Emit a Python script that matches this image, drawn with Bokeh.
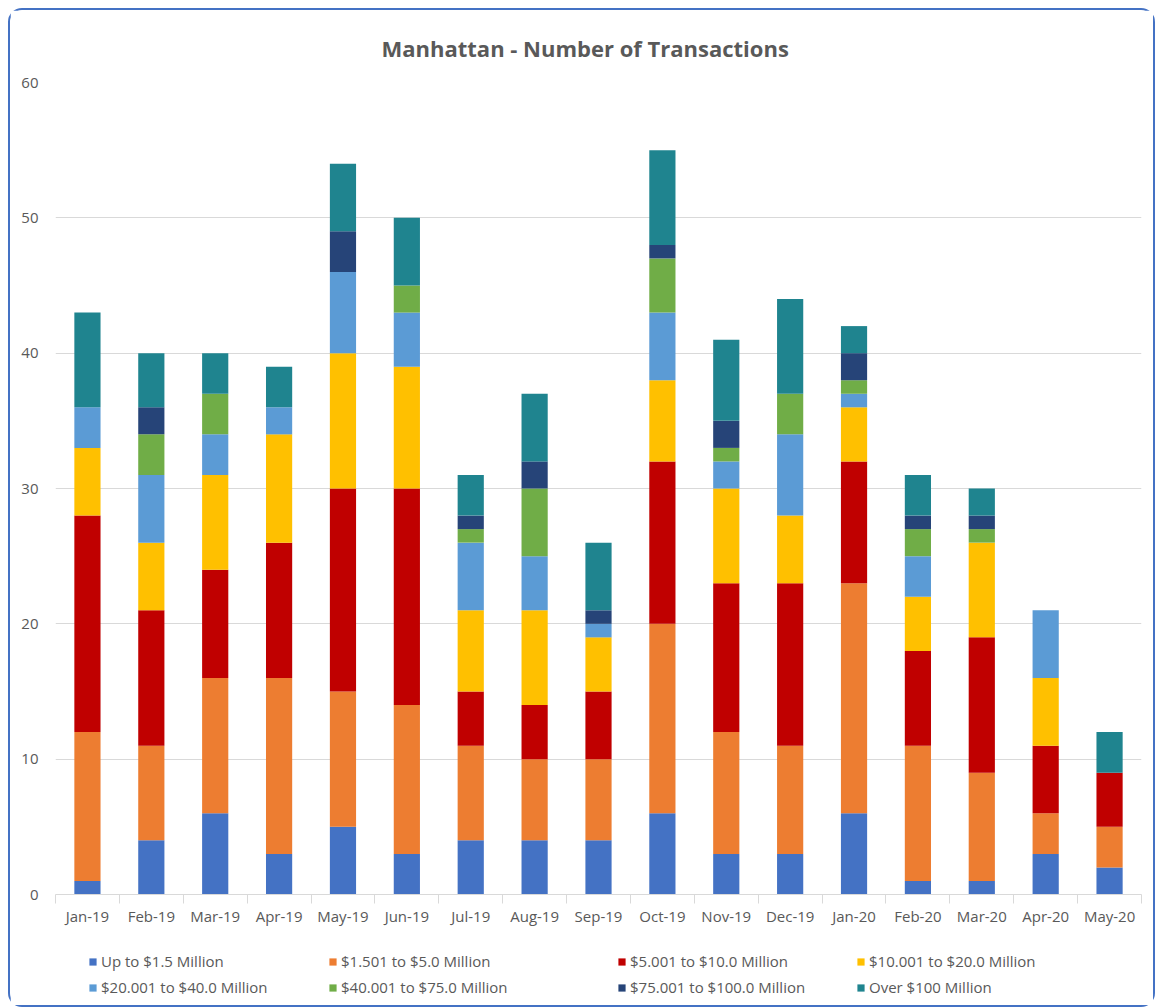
from bokeh.plotting import figure
from bokeh.layouts import column
from bokeh.models import Range1d, FixedTicker, SingleIntervalTicker, Legend, LegendItem, ColumnDataSource
from bokeh.embed import file_html
from bokeh.resources import INLINE

months = ["Jan-19", "Feb-19", "Mar-19", "Apr-19", "May-19", "Jun-19", "Jul-19", "Aug-19",
          "Sep-19", "Oct-19", "Nov-19", "Dec-19", "Jan-20", "Feb-20", "Mar-20", "Apr-20", "May-20"]

series_names = ["Up to $1.5 Million", "$1.501 to $5.0 Million", "$5.001 to $10.0 Million",
                "$10.001 to $20.0 Million", "$20.001 to $40.0 Million", "$40.001 to $75.0 Million",
                "$75.001 to $100.0 Million", "Over $100 Million"]

up_to_1_5    = [1, 4, 6, 3, 5, 3, 4, 4, 4, 6, 3, 3, 6, 1, 1, 3, 2]
m1_5_to_5    = [11, 7, 10, 13, 10, 11, 7, 6, 6, 14, 9, 8, 17, 10, 8, 3, 3]
m5_to_10     = [16, 10, 8, 10, 15, 16, 4, 4, 5, 12, 11, 12, 9, 7, 10, 5, 4]
m10_to_20    = [5, 5, 7, 8, 10, 9, 6, 7, 4, 6, 7, 5, 4, 4, 7, 5, 0]
m20_to_40    = [3, 5, 3, 2, 6, 4, 5, 4, 1, 5, 2, 6, 1, 3, 0, 5, 0]
m40_to_75    = [0, 3, 3, 0, 0, 2, 1, 5, 0, 4, 1, 3, 1, 2, 1, 0, 0]
m75_to_100   = [0, 2, 0, 0, 3, 0, 1, 2, 1, 1, 2, 0, 2, 1, 1, 0, 0]
over_100     = [7, 4, 3, 3, 5, 5, 3, 5, 5, 7, 6, 7, 2, 3, 2, 0, 3]

colors = ["#4472C4", "#ED7D31", "#C00000", "#FFC000", "#5B9BD5", "#70AD47", "#264478", "#1F848F"]

FONT = "Open Sans"
GRAY = "#595959"

keys = ["s0", "s1", "s2", "s3", "s4", "s5", "s6", "s7"]
data = {"x": list(range(len(months)))}
for k, vals in zip(keys, [up_to_1_5, m1_5_to_5, m5_to_10, m10_to_20, m20_to_40, m40_to_75, m75_to_100, over_100]):
    data[k] = vals
source = ColumnDataSource(data)

# ---- main chart ----
p = figure(width=1143, height=924, output_backend="svg", toolbar_location=None,
           x_range=Range1d(-0.5, len(months) - 0.5), y_range=Range1d(0, 60),
           min_border_left=45, min_border_right=12, min_border_top=70, min_border_bottom=40)

p.vbar_stack(keys, x="x", width=0.41, color=colors, source=source, line_width=0)

p.title.text = "Manhattan - Number of Transactions"
p.title.align = "left"
p.title.offset = 326
p.title.text_font = FONT
p.title.text_font_size = "22px"
p.title.text_font_style = "bold"
p.title.text_color = GRAY
p.title.standoff = 40

p.outline_line_color = None
p.background_fill_color = "white"
p.border_fill_color = "white"

p.xaxis.ticker = FixedTicker(ticks=list(range(len(months))),
                             minor_ticks=[i - 0.5 for i in range(len(months) + 1)])
p.xaxis.major_label_overrides = {i: m for i, m in enumerate(months)}
p.xaxis.major_tick_line_color = None
p.xaxis.major_tick_out = 0
p.xaxis.major_tick_in = 0
p.xaxis.minor_tick_line_color = "#D9D9D9"
p.xaxis.minor_tick_out = 9
p.xaxis.minor_tick_in = 0
p.xaxis.axis_line_color = "#D9D9D9"
p.xaxis.major_label_text_font = FONT
p.xaxis.major_label_text_font_size = "15px"
p.xaxis.major_label_text_color = GRAY
p.xaxis.major_label_standoff = 2
p.xgrid.grid_line_color = None

p.yaxis.ticker = SingleIntervalTicker(interval=10)
p.yaxis.axis_line_color = None
p.yaxis.major_tick_line_color = None
p.yaxis.minor_tick_line_color = None
p.yaxis.major_tick_out = 0
p.yaxis.major_tick_in = 0
p.yaxis.major_label_text_font = FONT
p.yaxis.major_label_text_font_size = "15px"
p.yaxis.major_label_text_color = GRAY
p.yaxis.major_label_standoff = 13
p.ygrid.grid_line_color = "#D9D9D9"
p.ygrid.grid_line_width = 1

# ---- legend strip (frame aligned with the chart's frame) ----
lg = figure(width=1143, height=71, output_backend="svg", toolbar_location=None,
            x_range=Range1d(0, 1), y_range=Range1d(0, 1),
            x_axis_type=None, y_axis_type=None, min_border=0)
lg.outline_line_color = None
lg.background_fill_color = "white"
lg.border_fill_color = "white"

# legend keys: one zero-height swatch glyph per series (nothing visible in the strip)
key_renderers = [lg.vbar(x=[0.5], top=[0], bottom=0, width=0.01, color=c, line_width=0)
                 for c in colors]

col_x = [33, 273, 562, 801]
for c in range(4):
    items = [LegendItem(label=series_names[c], renderers=[key_renderers[c]]),
             LegendItem(label=series_names[c + 4], renderers=[key_renderers[c + 4]])]
    leg = Legend(items=items, location=(col_x[c], 8), orientation="vertical",
                 padding=0, margin=0, spacing=6, glyph_width=9, glyph_height=9,
                 label_standoff=4, label_text_font=FONT, label_text_font_size="15px",
                 label_text_color=GRAY, border_line_color=None, background_fill_alpha=0)
    lg.add_layout(leg, "center")

layout = column(p, lg, spacing=0)
layout.margin = (8, 0, 0, 8)
layout.styles = {"border": "2px solid #4472C4", "border-radius": "14px"}

open("out.html", "w").write(file_html(layout, INLINE))
